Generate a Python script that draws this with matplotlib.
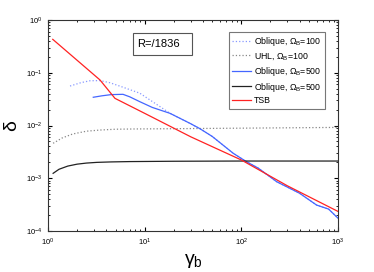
import matplotlib
matplotlib.use("Agg")
import matplotlib.pyplot as plt
from matplotlib.patches import Rectangle

plt.rcParams['font.family'] = ['Liberation Sans', 'DejaVu Sans']
plt.rcParams['mathtext.fontset'] = 'custom'
plt.rcParams['mathtext.rm'] = 'Liberation Sans'
plt.rcParams['mathtext.it'] = 'Liberation Sans:italic'

# Oblique, Omega_B=100 (dotted blue)
obl100_g = [1.69, 2.2, 2.72, 3.45, 4.38, 6.0, 8.9, 14.4, 18.3, 29.4, 37.3, 50, 82.5, 113, 150, 232, 400, 601, 800, 1000]
obl100_d = [0.056, 0.065, 0.0705, 0.071, 0.0646, 0.053, 0.041, 0.0228, 0.017, 0.011, 0.0087, 0.0062, 0.00297, 0.00206, 0.00155, 0.00086, 0.00052, 0.00031, 0.00026, 0.000175]
# UHL, Omega_B=100 (dotted grey)
uhl_g = [1.13, 1.4, 1.8, 2.5, 3.45, 5, 8, 20, 100, 1000]
uhl_d = [0.0046, 0.0058, 0.0069, 0.0078, 0.0082, 0.0085, 0.0086, 0.0087, 0.0089, 0.0092]
# Oblique, Omega_B=500 (solid blue)
obl500_g = [2.94, 3.6, 4.5, 5.97, 7.0, 8.9, 12, 18.3, 29.4, 37.3, 50, 82.5, 113, 150, 232, 400, 601, 800, 1000]
obl500_d = [0.0343, 0.0365, 0.0385, 0.039, 0.035, 0.0283, 0.022, 0.017, 0.011, 0.0087, 0.0062, 0.00297, 0.00206, 0.00155, 0.00086, 0.00052, 0.00031, 0.00026, 0.000175]
# Oblique, Omega_B=500 (solid black)
blk_g = [1.13, 1.3, 1.6, 2.0, 2.5, 3.2, 4.5, 7, 20, 100, 1000]
blk_d = [0.00124, 0.00148, 0.00170, 0.00185, 0.00194, 0.00200, 0.00204, 0.00207, 0.00210, 0.00212, 0.00212]
# TSB (red)
tsb_g = [1.12, 3.45, 4.93, 10, 30, 100, 300, 1000]
tsb_d = [0.43, 0.073, 0.0327, 0.0170, 0.0061, 0.00222, 0.000718, 0.000235]

fig = plt.figure(figsize=(3.74, 2.72), dpi=100)
ax = fig.add_axes([48/374, 1-231/272, 290/374, 211/272])

ax.plot(obl100_g, obl100_d, ':', color='#8899ff', lw=0.9, label=r'Oblique, $\Omega_\mathrm{B}$=100')
ax.plot(uhl_g, uhl_d, ':', color='#888888', lw=0.9, label=r'UHL, $\Omega_\mathrm{B}$=100')
ax.plot(obl500_g, obl500_d, '-', color='#4466ff', lw=0.9, label=r'Oblique, $\Omega_\mathrm{B}$=500')
ax.plot(blk_g, blk_d, '-', color='#222222', lw=0.9, label=r'Oblique, $\Omega_\mathrm{B}$=500')
ax.plot(tsb_g, tsb_d, '-', color='#ff2222', lw=0.9, label='TSB')

ax.set_xscale('log')
ax.set_yscale('log')
ax.set_xlim(1, 1000)
ax.set_ylim(1e-4, 1)
ax.tick_params(which='both', direction='in', top=True, right=True, labelsize=5.5)
ax.tick_params(axis='y', pad=4)
ax.tick_params(axis='x', pad=4)
ax.tick_params(which='major', length=3)
ax.tick_params(which='minor', length=1.5)
for s in ax.spines.values():
    s.set_linewidth(0.8)
    s.set_color('#333333')

ax.set_xlabel(r'$\mathrm{γ}_\mathrm{b}$', fontsize=14, labelpad=3)
ax.set_ylabel('δ', fontsize=14, labelpad=4)

leg = ax.legend(loc='upper right', fontsize=6.3, frameon=True, fancybox=False,
                edgecolor='#555555', handlelength=2.1, handletextpad=0.4,
                borderpad=0.4, borderaxespad=0.0,
                labelspacing=0.32, bbox_to_anchor=(0.955, 0.945))
leg.get_frame().set_linewidth(0.8)

ax.add_patch(Rectangle((0.293, 0.834), 0.204, 0.104, transform=ax.transAxes,
                       fc='white', ec='#555555', lw=0.8, zorder=5))
ax.text(0.306, 0.886, 'R=/1836', transform=ax.transAxes, fontsize=8,
        va='center', ha='left', zorder=6)

fig.savefig('out.png', dpi=100)
